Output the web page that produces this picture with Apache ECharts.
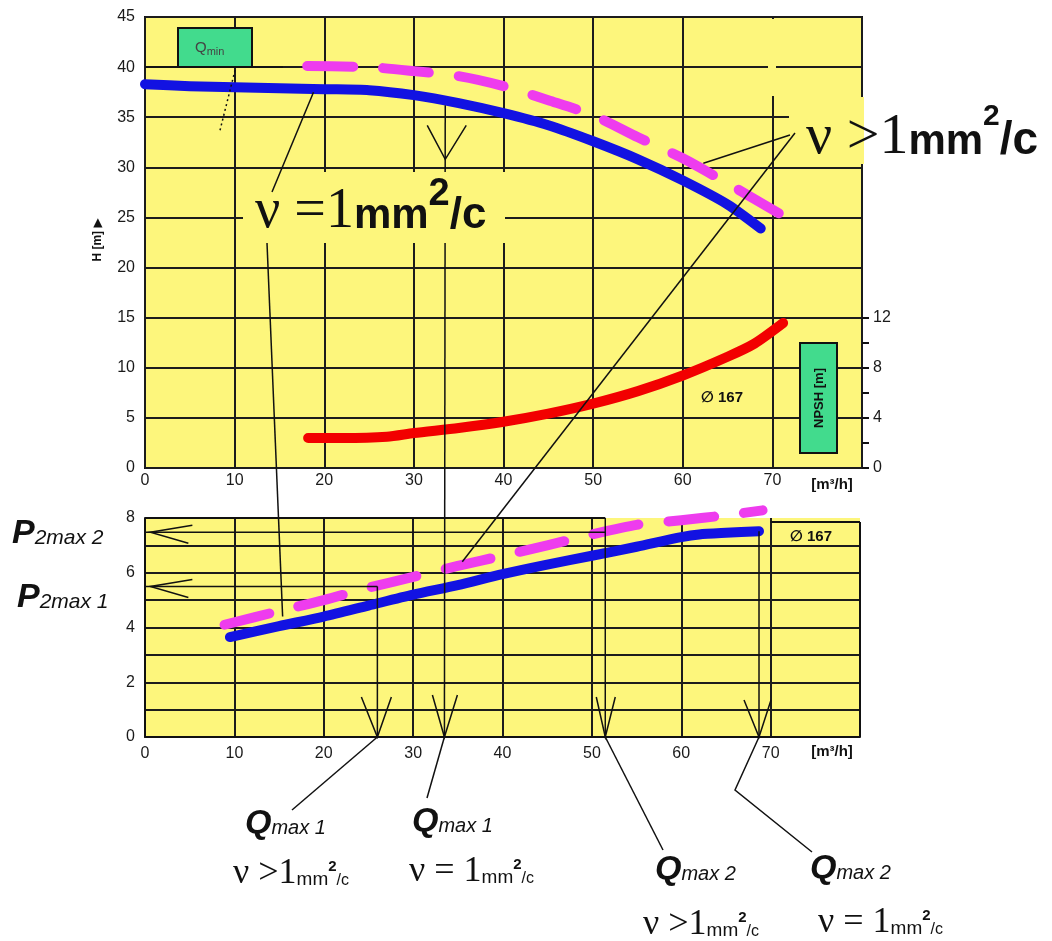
<!DOCTYPE html>
<html><head><meta charset="utf-8">
<script src="https://cdn.jsdelivr.net/npm/echarts@6/dist/echarts.min.js"></script>
<style>html,body{margin:0;padding:0;background:#fff;}#c{width:1052px;height:941px;}</style>
</head><body><div id="c"></div>
<script>
// ---------------- data ----------------
const flowTicks  = [0, 10, 20, 30, 40, 50, 60, 70];
const headTicks  = [0, 5, 10, 15, 20, 25, 30, 35, 40, 45];
const npshTicks  = [0, 4, 8, 12];
const powerTicks = [0, 2, 4, 6, 8];

// H(Q), viscosity = 1 mm2/s
const qHeadNu1 = [0, 5, 10, 15, 20, 25, 30, 35, 40, 45, 50, 55, 60, 65, 68.7];
const headNu1  = [38.3, 38.1, 38.0, 37.9, 37.8, 37.7, 37.2, 36.4, 35.4, 34.2, 32.6, 30.8, 28.7, 26.3, 23.9];
// H(Q), viscosity > 1 mm2/s
const qHeadNuGt1 = [18.1, 25, 30, 35, 40, 45, 50, 55, 60, 65, 71.7];
const headNuGt1  = [40.1, 40.0, 39.6, 39.1, 38.1, 36.7, 35.2, 33.0, 30.9, 28.4, 24.9];
// NPSH(Q)
const qNpsh = [18.2, 22, 27, 30, 35, 40, 45, 50, 55, 60, 65, 68, 71.2];
const npsh  = [2.4, 2.4, 2.5, 2.8, 3.2, 3.7, 4.35, 5.15, 6.15, 7.4, 8.9, 9.95, 11.6];
// P2(Q), viscosity = 1
const qPowerNu1 = [9.5, 15, 20, 25, 30, 35, 40, 45, 50, 55, 60, 62, 65, 68.7];
const powerNu1  = [3.65, 4.05, 4.4, 4.8, 5.2, 5.55, 5.95, 6.3, 6.62, 6.95, 7.3, 7.4, 7.46, 7.52];
// P2(Q), viscosity > 1
const qPowerNuGt1 = [8.9, 15, 20, 25, 30, 35, 40, 45, 50, 55, 60, 65, 69.1];
const powerNuGt1  = [4.1, 4.6, 5.0, 5.45, 5.85, 6.25, 6.62, 7.0, 7.4, 7.75, 7.92, 8.1, 8.28];

// annotation values
const qMaxNuGt1_1 = 26.0, qMaxNu1_1 = 33.5, qMaxNuGt1_2 = 51.5, qMaxNu1_2 = 68.7;
const p2max1 = 5.5, p2max2 = 7.48;
const qMinHead = 40, qMinFlowEnd = 15.4;

// ---------------- styling ----------------
const YELLOW = '#fdf67c', GREEN = '#42db8d', BLUE = '#1212e2', MAGENTA = '#ee3cee', RED = '#f20000';
const INK = '#111';
const SANS = "'Liberation Sans', 'DejaVu Sans', sans-serif";
const SERIF = "'Liberation Serif', 'DejaVu Serif', serif";
const pairs = (xs, ys) => xs.map((x, i) => [x, ys[i]]);
const lab = { fontFamily: SANS, fontSize: 16, color: '#1a1a1a' };
const split = { show: true, lineStyle: { color: '#1c1c1c', width: 2 } };

const chart = echarts.init(document.getElementById('c'));
const option = {
  animation: false,
  grid: [
    { left: 145, top: 17, width: 717, height: 451, show: true, backgroundColor: YELLOW, borderColor: INK, borderWidth: 2 },
    { left: 145, top: 518, width: 715, height: 219, show: true, backgroundColor: YELLOW, borderWidth: 0 },
    { left: 145, top: 318, width: 717, height: 150, show: false }
  ],
  xAxis: [
    { gridIndex: 0, type: 'value', min: 0, max: 80, interval: 10,
      axisLine: { show: false, onZero: false }, axisTick: { show: false },
      axisLabel: Object.assign({ margin: 5, formatter: v => flowTicks.includes(v) ? String(v) : '' }, lab),
      splitLine: split },
    { gridIndex: 1, type: 'value', min: 0, max: 80, interval: 10,
      axisLine: { show: true, onZero: false, lineStyle: { color: INK, width: 2 } }, axisTick: { show: false },
      axisLabel: Object.assign({ margin: 9, formatter: v => flowTicks.includes(v) ? String(v) : '' }, lab),
      splitLine: Object.assign({ showMaxLine: false }, split) },
    { gridIndex: 2, type: 'value', min: 0, max: 80, show: false, axisLine: { onZero: false } }
  ],
  yAxis: [
    { gridIndex: 0, type: 'value', min: 0, max: 45, interval: 5,
      axisLine: { show: false, onZero: false }, axisTick: { show: false },
      axisLabel: Object.assign({ margin: 10, formatter: v => headTicks.includes(v) ? String(v) : '' }, lab),
      splitLine: split },
    { gridIndex: 1, type: 'value', min: 0, max: 8, interval: 1,
      axisLine: { show: true, onZero: false, lineStyle: { color: INK, width: 2 } }, axisTick: { show: false },
      axisLabel: Object.assign({ margin: 10, formatter: v => powerTicks.includes(v) ? String(v) : '' }, lab),
      splitLine: Object.assign({ showMaxLine: false }, split) },
    { gridIndex: 2, type: 'value', position: 'right', min: 0, max: 12, interval: 2,
      axisLine: { show: false, onZero: false },
      axisTick: { show: true, inside: false, length: 7, lineStyle: { color: INK, width: 2 } },
      axisLabel: Object.assign({ margin: 11, formatter: v => npshTicks.includes(v) ? String(v) : '' }, lab),
      splitLine: { show: false } }
  ],
  series: [
    { name: 'H ν=1', type: 'line', xAxisIndex: 0, yAxisIndex: 0, data: pairs(qHeadNu1, headNu1),
      smooth: 0.25, symbol: 'none', z: 5,
      lineStyle: { color: BLUE, width: 10, cap: 'round', join: 'round' } },
    { name: 'H ν>1', type: 'line', xAxisIndex: 0, yAxisIndex: 0, data: pairs(qHeadNuGt1, headNuGt1),
      smooth: 0.25, symbol: 'none', z: 6,
      lineStyle: { color: MAGENTA, width: 10, type: [46, 30], cap: 'round', join: 'round' } },
    { name: 'NPSH', type: 'line', xAxisIndex: 2, yAxisIndex: 2, data: pairs(qNpsh, npsh),
      smooth: 0.25, symbol: 'none', z: 5, clip: false,
      lineStyle: { color: RED, width: 10, cap: 'round', join: 'round' } },
    { name: 'P2 ν=1', type: 'line', xAxisIndex: 1, yAxisIndex: 1, data: pairs(qPowerNu1, powerNu1),
      smooth: 0.25, symbol: 'none', z: 5,
      lineStyle: { color: BLUE, width: 10, cap: 'round', join: 'round' } },
    { name: 'P2 ν>1', type: 'line', xAxisIndex: 1, yAxisIndex: 1, data: pairs(qPowerNuGt1, powerNuGt1),
      smooth: 0.25, symbol: 'none', z: 6, clip: false,
      lineStyle: { color: MAGENTA, width: 10, type: [46, 30], cap: 'round', join: 'round' } }
  ]
};
chart.setOption(option);

// ---------------- annotations ----------------
const T = (x, y) => chart.convertToPixel({ gridIndex: 0 }, [x, y]);
const B = (x, y) => chart.convertToPixel({ gridIndex: 1 }, [x, y]);
const g = [];
function line(points, opt) {
  opt = opt || {};
  g.push({ type: 'polyline', z: opt.z || 50, silent: true, shape: { points },
    style: { stroke: opt.color || INK, lineWidth: opt.w || 1.5, lineDash: opt.dash || null, fill: null } });
}
function rect(x, y, w, h, fill, stroke, z) {
  g.push({ type: 'rect', z: z || 55, silent: true, shape: { x, y, width: w, height: h },
    style: { fill, stroke: stroke || null, lineWidth: stroke ? 2 : 0 } });
}
function vArrow(tip, l, r, h) { line([[tip[0] - l, tip[1] - h], tip, [tip[0] + r, tip[1] - h]]); }
const mctx = document.createElement('canvas').getContext('2d');
function runs(x, base, parts, z) {
  let cx = x;
  parts.forEach(p => {
    const fam = p.f === 'serif' ? SERIF : SANS;
    const w = p.w || 'normal', st = p.s || 'normal';
    mctx.font = st + ' ' + w + ' ' + p.size + 'px ' + fam;
    g.push({ type: 'text', z: z || 80, silent: true, x: cx, y: base + (p.dy || 0) - 0.34 * p.size,
      style: { text: p.t, fill: p.c || INK, fontSize: p.size, fontFamily: fam, fontWeight: w, fontStyle: st,
        align: 'left', verticalAlign: 'middle' } });
    cx += mctx.measureText(p.t).width + (p.gap || 0);
  });
}
function label(x, y, text, size, rot, weight) {
  g.push({ type: 'text', z: 80, silent: true, x, y, rotation: rot || 0,
    style: { text, fill: INK, fontSize: size, fontFamily: SANS, fontWeight: weight || 'bold', align: 'center', verticalAlign: 'middle' } });
}

// bottom chart frame pieces (top border is interrupted in the original)
line([B(80, 0), B(80, 7.85)], { w: 2 });
line([B(0, 8), B(qMaxNuGt1_2, 8)], { w: 2 });
line([B(70, 7.85), B(80, 7.85)], { w: 2 });

// cover patches (interrupted grid lines in the original)
rect(768, 19, 8, 77, YELLOW, null, 40);
rect(789, 97, 75, 67, YELLOW, null, 40);

// Qmin
line([T(0, qMinHead), T(qMinFlowEnd, qMinHead)], { w: 1.5 });
line([T(10.05, 39.7), T(8.37, 33.7)], { w: 1.5, dash: [2, 3] });
rect(178, 28, 74, 39, GREEN, INK, 60);
runs(195, 53, [{ t: 'Q', size: 15, c: '#444' }, { t: 'min', size: 11, dy: 3, c: '#444' }]);

// NPSH label box
rect(800, 343, 37, 110, GREEN, INK, 60);
label(819, 398, 'NPSH [m]', 13, Math.PI / 2);
label(98, 240, 'H [m] ▶', 12, Math.PI / 2);
label(722, 398, '∅ 167', 15);
label(811, 537, '∅ 167', 15);
label(832, 485, '[m³/h]', 15);
label(832, 752, '[m³/h]', 15);

// Qmax lines in the power chart
const pv1 = T(qMaxNu1_1, 36.2), pv1b = B(qMaxNu1_1, 0);
line([pv1, pv1b], { z: 45 });
vArrow(T(qMaxNu1_1, 30.8), 18, 21, 34);
line([B(qMaxNuGt1_1, p2max1), B(qMaxNuGt1_1, 0)]);
line([B(0, p2max1), B(qMaxNuGt1_1, p2max1)]);
line([B(qMaxNuGt1_2, 8), B(qMaxNuGt1_2, 0)]);
line([B(0, p2max2), B(qMaxNuGt1_2, p2max2)]);
line([B(qMaxNu1_2, 7.52), B(qMaxNu1_2, 0)]);
const a1 = B(qMaxNuGt1_1, 0), a2 = B(qMaxNu1_1, 0), a3 = B(qMaxNuGt1_2, 0), a4 = B(qMaxNu1_2, 0);
vArrow(a1, 16, 14, 40); vArrow(a2, 12, 13, 42); vArrow(a3, 9, 10, 40); vArrow(a4, 15, 12, 37);
[B(0.6, p2max2), B(0.6, p2max1)].forEach(tip => line([[tip[0] + 42, tip[1] - 7], tip, [tip[0] + 38, tip[1] + 11]]));

// leaders to bottom labels
line([a1, [292, 810]]);
line([a2, [427, 798]]);
line([a3, [663, 850]]);
line([a4, [735, 790], [812, 852]]);

// viscosity callouts
rect(243, 172, 262, 71, YELLOW, null, 60);
runs(255, 231, [{ t: 'ν =1', f: 'serif', size: 56 }, { t: 'mm', w: 'bold', size: 42 },
  { t: '2', w: 'bold', size: 38, dy: -24 }, { t: '/c', w: 'bold', size: 44 }], 65);
line([[272, 192], T(18.8, 37.5)], { z: 70 });
line([[267, 243], B(15.4, 4.4)], { z: 70 });

runs(806, 157, [{ t: 'ν >1', f: 'serif', size: 58 }, { t: 'mm', w: 'bold', size: 42 },
  { t: '2', w: 'bold', size: 30, dy: -30 }, { t: '/c', w: 'bold', size: 46 }], 65);
line([[790, 135], T(62.3, 30.4)], { z: 70 });
line([[795, 133], B(35.5, 6.4)], { z: 70 });

// P2max labels
runs(12, 545, [{ t: 'P', w: 'bold', s: 'italic', size: 34 }, { t: '2max 2', s: 'italic', size: 21 }]);
runs(17, 609, [{ t: 'P', w: 'bold', s: 'italic', size: 34 }, { t: '2max 1', s: 'italic', size: 21 }]);

// Qmax labels
const qLab = (x, y, n) => runs(x, y, [{ t: 'Q', w: 'bold', s: 'italic', size: 34 }, { t: 'max ' + n, s: 'italic', size: 20 }]);
qLab(245, 835, 1); qLab(412, 833, 1); qLab(655, 881, 2); qLab(810, 880, 2);
const nuLab = (x, y, rel) => runs(x, y, [{ t: rel, f: 'serif', size: 36 }, { t: 'mm', size: 19 },
  { t: '2', w: 'bold', size: 15, dy: -14 }, { t: '/c', size: 16 }]);
nuLab(233, 886, 'ν >1'); nuLab(409, 884, 'ν = 1'); nuLab(643, 937, 'ν >1'); nuLab(818, 935, 'ν = 1');

chart.setOption({ graphic: g });
</script>
</body></html>
